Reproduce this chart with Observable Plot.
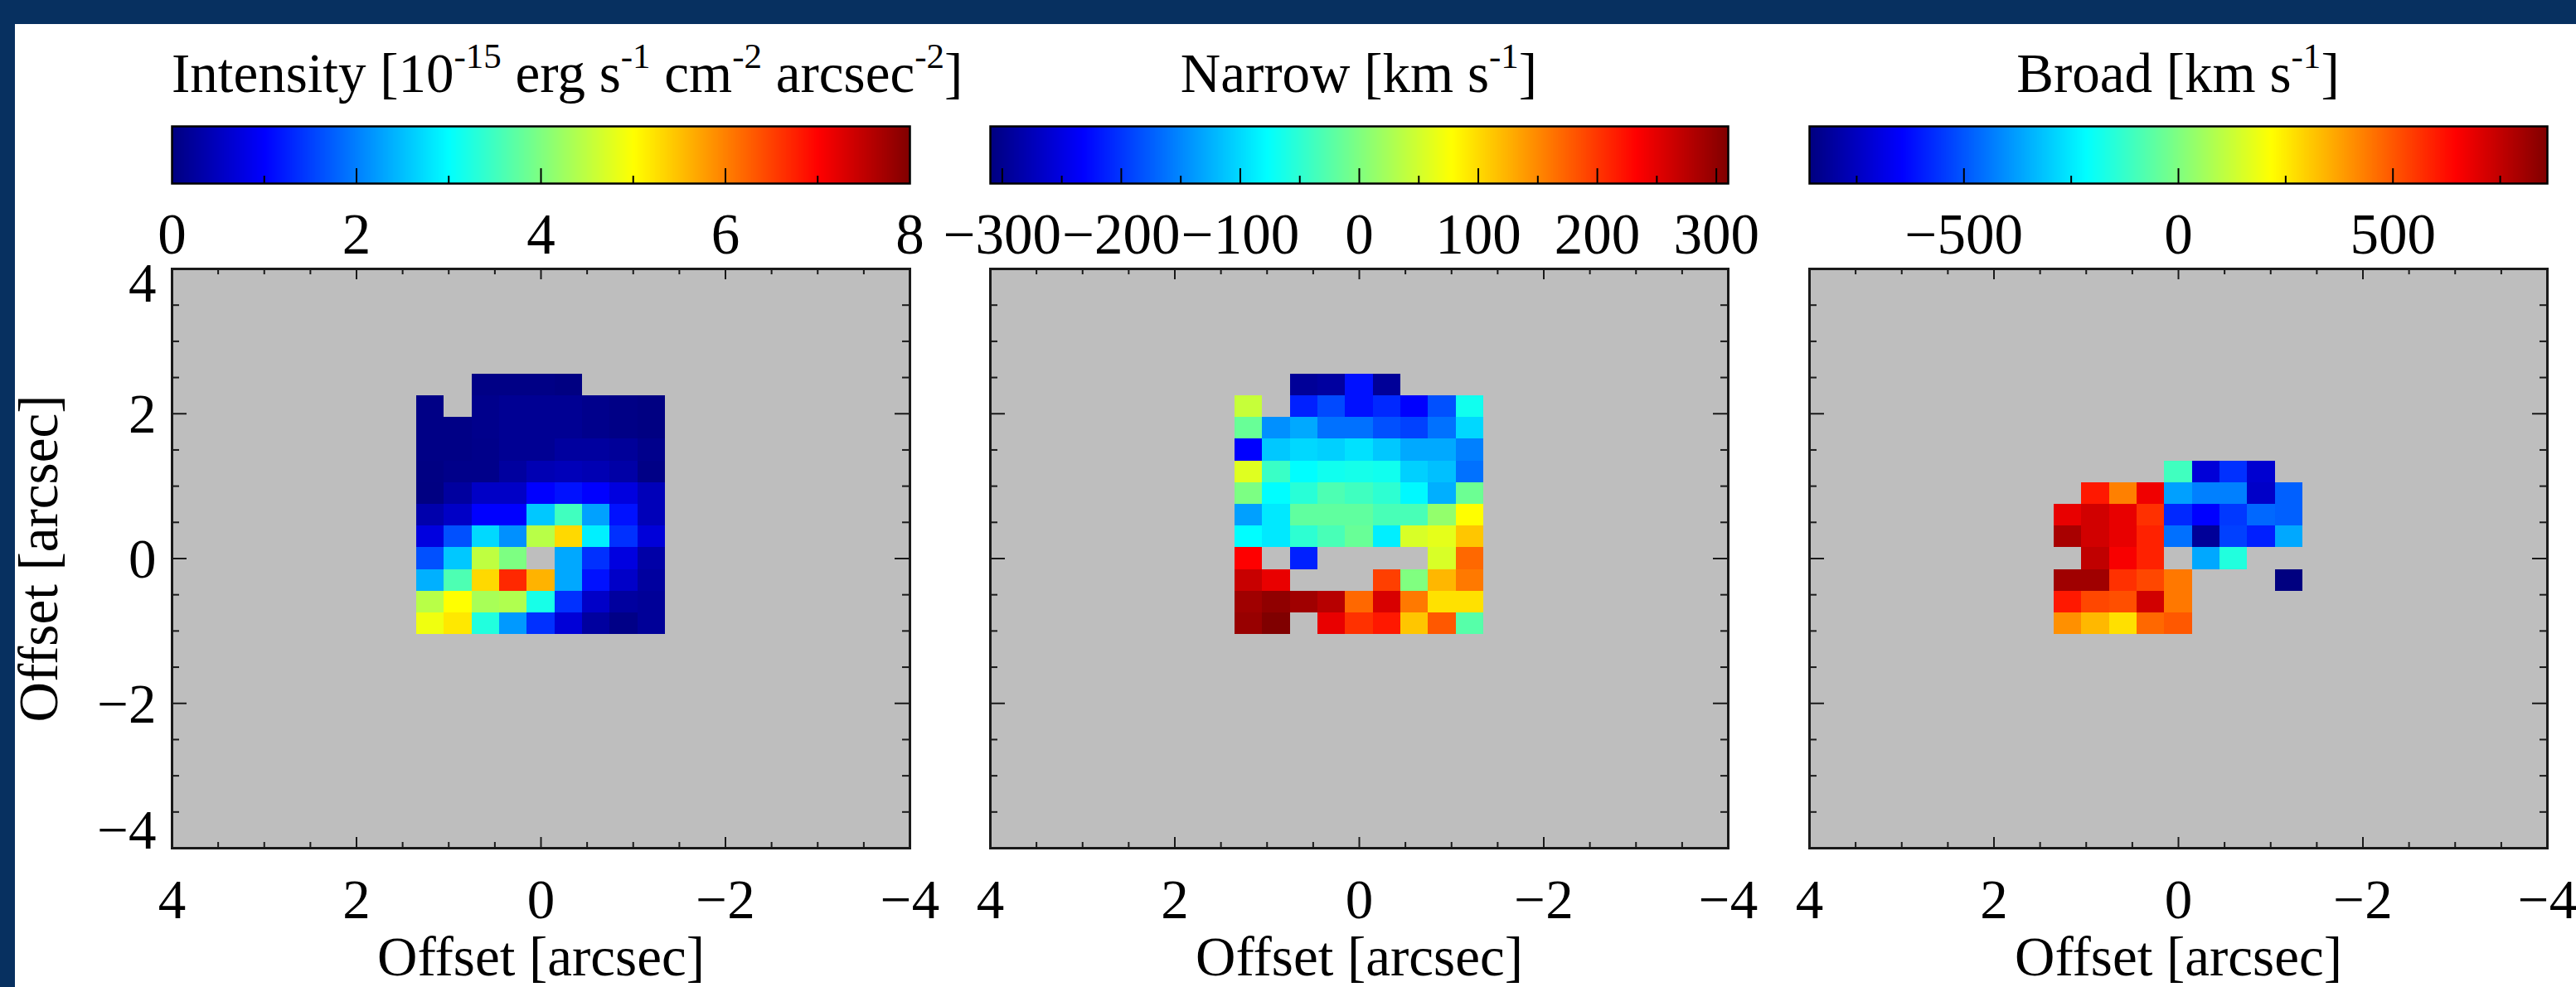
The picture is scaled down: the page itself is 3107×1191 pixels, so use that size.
<!DOCTYPE html>
<html>
<head>
<meta charset="utf-8">
<script src="https://cdn.jsdelivr.net/npm/d3@7"></script>
<script src="https://cdn.jsdelivr.net/npm/@observablehq/plot@0.6"></script>
<style>
  html, body { margin: 0; padding: 0; background: white; }
  #root { position: relative; width: 3107px; height: 1191px; background: white; overflow: hidden;
          font-family: 'Liberation Serif', 'Times New Roman', serif; }
  .band-top { position: absolute; left: 0; top: 0; width: 3107px; height: 29px; background: #073060; }
  .band-left { position: absolute; left: 0; top: 0; width: 18px; height: 1191px; background: #073060; }
  .title { position: absolute; top: 55px; font-size: 67px; line-height: 67px; text-align: center;
           white-space: nowrap; color: black; }
  .sup { font-size: 43px; position: relative; top: -29px; line-height: 0; }
  .abs { position: absolute; }
</style>
</head>
<body>
<div id="root">
  <div class="band-top"></div>
  <div class="band-left"></div>
</div>
<script>
// ---------------- data ----------------
const xCenters = [1.2, 0.9, 0.6, 0.3, 0, -0.3, -0.6, -0.9, -1.2];
const yCenters = [2.4, 2.1, 1.8, 1.5, 1.2, 0.9, 0.6, 0.3, 0, -0.3, -0.6, -0.9];
const cellHalf = 0.15;

// Intensity [1e-15 erg s-1 cm-2 arcsec-2], rows top (y=2.4) to bottom (y=-0.9), cols x=1.2 .. -1.2
const intensity = [
  [null, null, 0.05, 0.05, 0.05, 0.02, null, null, null],
  [0.05, null, 0.10, 0.15, 0.15, 0.15, 0.10, 0.05, 0.02],
  [0.05, 0.05, 0.10, 0.15, 0.15, 0.15, 0.10, 0.05, 0.02],
  [0.05, 0.05, 0.08, 0.15, 0.15, 0.25, 0.25, 0.20, 0.10],
  [0.03, 0.08, 0.08, 0.25, 0.40, 0.45, 0.40, 0.30, 0.05],
  [0.02, 0.25, 0.55, 0.55, 1.00, 1.13, 1.00, 0.75, 0.45],
  [0.35, 0.55, 1.00, 1.00, 2.57, 3.50, 2.26, 1.13, 0.45],
  [0.75, 1.63, 2.70, 2.13, 4.44, 5.30, 2.88, 1.38, 0.70],
  [1.63, 2.57, 4.50, 3.98, null, 2.32, 1.38, 0.76, 0.31],
  [2.38, 3.60, 5.30, 6.69, 5.60, 2.32, 1.13, 0.57, 0.25],
  [4.44, 5.00, 4.32, 4.38, 3.18, 1.38, 0.57, 0.25, 0.19],
  [4.88, 5.18, 3.26, 2.20, 1.38, 0.69, 0.25, 0.06, 0.19]
];

// Narrow component velocity [km s-1]
const narrow = [
  [null, null, -295, -290, -223, -295, null, null, null],
  [43, null, -213, -188, -223, -208, -233, -184, -68],
  [-14, -145, -130, -164, -164, -184, -193, -164, -101],
  [-233, -111, -101, -106, -96, -111, -130, -130, -155],
  [58, -43, -78, -68, -65, -68, -106, -116, -164],
  [-2, -78, -53, -31, -39, -50, -81, -126, -12],
  [-135, -91, -19, -19, -19, -34, -34, 12, 78],
  [-78, -91, -50, -34, -14, -87, 54, 62, 112],
  [233, null, -213, null, null, null, null, 54, 169],
  [266, 246, null, null, null, 194, 0, 121, 159],
  [290, 300, 290, 276, 169, 256, 159, 96, 96],
  [295, 310, null, 246, 203, 218, 112, 179, -25]
];

// Broad component velocity [km s-1]
const broad = [
  [null, null, null, null, null, null, null, null, null],
  [null, null, null, null, null, null, null, null, null],
  [null, null, null, null, null, null, null, null, null],
  [null, null, null, null, null, null, null, null, null],
  [null, null, null, null, -107, -710, -564, -724, null],
  [null, 604, 430, 671, -375, -430, -430, -738, -483],
  [684, 722, 684, 564, -578, -645, -550, -470, -483],
  [791, 722, 684, 590, -456, -819, -537, -592, -361],
  [null, 752, 657, 590, null, -361, -160, null, null],
  [805, 805, 564, 525, 442, null, null, null, -860],
  [604, 525, 511, 722, 442, null, null, null, null],
  [402, 335, 267, 470, 497, null, null, null, null]
];

// colour-bar ranges and ticks
const intensityDomain = [0, 8];
const intensityMajor = [2, 4, 6];
const intensityMinor = [1, 3, 5, 7];
const intensityLabels = [0, 2, 4, 6, 8];

const narrowDomain = [-310, 310];
const narrowMajor = [-300, -200, -100, 0, 100, 200, 300];
const narrowMinor = [-250, -150, -50, 50, 150, 250];
const narrowLabels = [-300, -200, -100, 0, 100, 200, 300];

const broadDomain = [-860, 860];
const broadMajor = [-500, 0, 500];
const broadMinor = [-750, -250, 250, 750];
const broadLabels = [-500, 0, 500];

// map axes ticks
const axisMajor = [4, 2, 0, -2, -4];
const axisMinor = [3.5, 3, 2.5, 1.5, 1, 0.5, -0.5, -1, -1.5, -2.5, -3, -3.5];
const xTickLabels = [4, 2, 0, -2, -4];
const yTickLabels = [4, 2, 0, -2, -4];

const titles = [
  'Intensity [10<span class="sup">-15</span> erg s<span class="sup">-1</span> cm<span class="sup">-2</span> arcsec<span class="sup">-2</span>]',
  'Narrow [km s<span class="sup">-1</span>]',
  'Broad [km s<span class="sup">-1</span>]'
];

// ---------------- helpers ----------------
const FONT = "'Liberation Serif', 'Times New Roman', serif";
const clamp01 = v => Math.max(0, Math.min(1, v));
function jet(t) {
  const r = clamp01(Math.min(4 * t - 1.5, -4 * t + 4.5));
  const g = clamp01(Math.min(4 * t - 0.5, -4 * t + 3.5));
  const b = clamp01(Math.min(4 * t + 0.5, -4 * t + 2.5));
  return `rgb(${Math.round(r * 255)},${Math.round(g * 255)},${Math.round(b * 255)})`;
}
const fmt = d => d < 0 ? "\u2212" + Math.abs(d) : String(d);
function toCells(grid) {
  const out = [];
  grid.forEach((row, i) => row.forEach((v, j) => {
    if (v != null) out.push({x: xCenters[j], y: yCenters[i], v});
  }));
  return out;
}

const root = document.getElementById("root");
const frameLefts = [207, 1194, 2182];
const W = 890;          // frame width
const H = 699;          // frame height
const INK = "#1a1a1a";
const svgStyle = {background: "transparent", overflow: "visible", fontFamily: FONT, maxWidth: "none"};

const panels = [
  {values: intensity, domain: intensityDomain, major: intensityMajor, minor: intensityMinor, labels: intensityLabels},
  {values: narrow, domain: narrowDomain, major: narrowMajor, minor: narrowMinor, labels: narrowLabels},
  {values: broad, domain: broadDomain, major: broadMajor, minor: broadMinor, labels: broadLabels}
];

panels.forEach((p, i) => {
  const left = frameLefts[i];
  const colorScale = {type: "linear", domain: p.domain, interpolate: jet, clamp: true};

  // title
  const t = document.createElement("div");
  t.className = "title";
  t.style.left = left + "px";
  t.style.width = W + "px";
  t.innerHTML = titles[i];
  root.appendChild(t);

  // colour bar
  const cbH = 69, cbMT = 2, cbMB = 100, cbML = 90, cbMR = 90;
  const cb = Plot.plot({
    width: W + cbML + cbMR,
    height: cbH + cbMT + cbMB,
    marginLeft: cbML, marginRight: cbMR, marginTop: cbMT, marginBottom: cbMB,
    x: {domain: p.domain, axis: null},
    y: {domain: [0, 1], axis: null},
    color: colorScale,
    style: svgStyle,
    marks: [
      Plot.raster({x1: p.domain[0], x2: p.domain[1], y1: 0, y2: 1, width: 445, height: 1,
                   fill: (x, y) => x, imageRendering: "pixelated"}),
      Plot.tickX(p.major, {x: d => d, insetTop: cbH - 18, stroke: "black", strokeWidth: 2}),
      Plot.tickX(p.minor, {x: d => d, insetTop: cbH - 9, stroke: "black", strokeWidth: 2}),
      Plot.frame({stroke: "black", strokeWidth: 2.5}),
      Plot.text(p.labels, {x: d => d, text: fmt, frameAnchor: "bottom", lineAnchor: "bottom",
                           dy: 84, fontSize: 69, fontFamily: FONT, fill: "black"})
    ]
  });
  cb.classList.add("abs");
  cb.style.left = (left - cbML) + "px";
  cb.style.top = (152 - cbMT) + "px";
  root.appendChild(cb);

  // map
  const mL = i === 0 ? left : 60, mR = 45, mT = 24, mB = 168;
  const cells = toCells(p.values);
  const marks = [
    Plot.frame({fill: "#bebebe"}),
    Plot.rect(cells, {x1: d => d.x + cellHalf, x2: d => d.x - cellHalf,
                      y1: d => d.y - cellHalf, y2: d => d.y + cellHalf,
                      fill: "v", shapeRendering: "crispEdges"}),
    Plot.tickX(axisMajor, {x: d => d, insetTop: H - 13, stroke: INK, strokeWidth: 2}),
    Plot.tickX(axisMinor, {x: d => d, insetTop: H - 7, stroke: INK, strokeWidth: 2}),
    Plot.tickX(axisMajor, {x: d => d, insetBottom: H - 13, stroke: INK, strokeWidth: 2}),
    Plot.tickX(axisMinor, {x: d => d, insetBottom: H - 7, stroke: INK, strokeWidth: 2}),
    Plot.tickY(axisMajor, {y: d => d, insetRight: W - 18, stroke: INK, strokeWidth: 2}),
    Plot.tickY(axisMinor, {y: d => d, insetRight: W - 9, stroke: INK, strokeWidth: 2}),
    Plot.tickY(axisMajor, {y: d => d, insetLeft: W - 18, stroke: INK, strokeWidth: 2}),
    Plot.tickY(axisMinor, {y: d => d, insetLeft: W - 9, stroke: INK, strokeWidth: 2}),
    Plot.frame({stroke: INK, strokeWidth: 3}),
    Plot.text(xTickLabels, {x: d => d, text: fmt, frameAnchor: "bottom", lineAnchor: "bottom",
                            dy: 84, fontSize: 67, fontFamily: FONT, fill: "black"}),
    Plot.text(["Offset [arcsec]"], {frameAnchor: "bottom", lineAnchor: "bottom", dy: 153,
                                    fontSize: 67, fontFamily: FONT, fill: "black"})
  ];
  if (i === 0) {
    const ymax = d3.max(yTickLabels), ymin = d3.min(yTickLabels);
    marks.push(
      Plot.text(yTickLabels.filter(d => d !== ymax && d !== ymin),
        {y: d => d, text: fmt, frameAnchor: "left", textAnchor: "end", lineAnchor: "bottom",
         dx: -19, dy: 23, fontSize: 67, fontFamily: FONT, fill: "black"}),
      Plot.text(yTickLabels.filter(d => d === ymax),
        {y: d => d, text: fmt, frameAnchor: "left", textAnchor: "end", lineAnchor: "bottom",
         dx: -19, dy: 39, fontSize: 67, fontFamily: FONT, fill: "black"}),
      Plot.text(yTickLabels.filter(d => d === ymin),
        {y: d => d, text: fmt, frameAnchor: "left", textAnchor: "end", lineAnchor: "bottom",
         dx: -19, dy: 0, fontSize: 67, fontFamily: FONT, fill: "black"}),
      Plot.text(["Offset [arcsec]"], {frameAnchor: "left", rotate: -90, lineAnchor: "bottom",
         textAnchor: "middle", dx: 68 - left, fontSize: 67, fontFamily: FONT, fill: "black"})
    );
  }
  const map = Plot.plot({
    width: mL + W + mR,
    height: mT + H + mB,
    marginLeft: mL, marginRight: mR, marginTop: mT, marginBottom: mB,
    x: {domain: [4, -4], axis: null},
    y: {domain: [-4, 4], axis: null},
    color: colorScale,
    style: svgStyle,
    marks
  });
  map.classList.add("abs");
  map.style.left = (left - mL) + "px";
  map.style.top = (324 - mT) + "px";
  root.appendChild(map);
});
</script>
</body>
</html>
